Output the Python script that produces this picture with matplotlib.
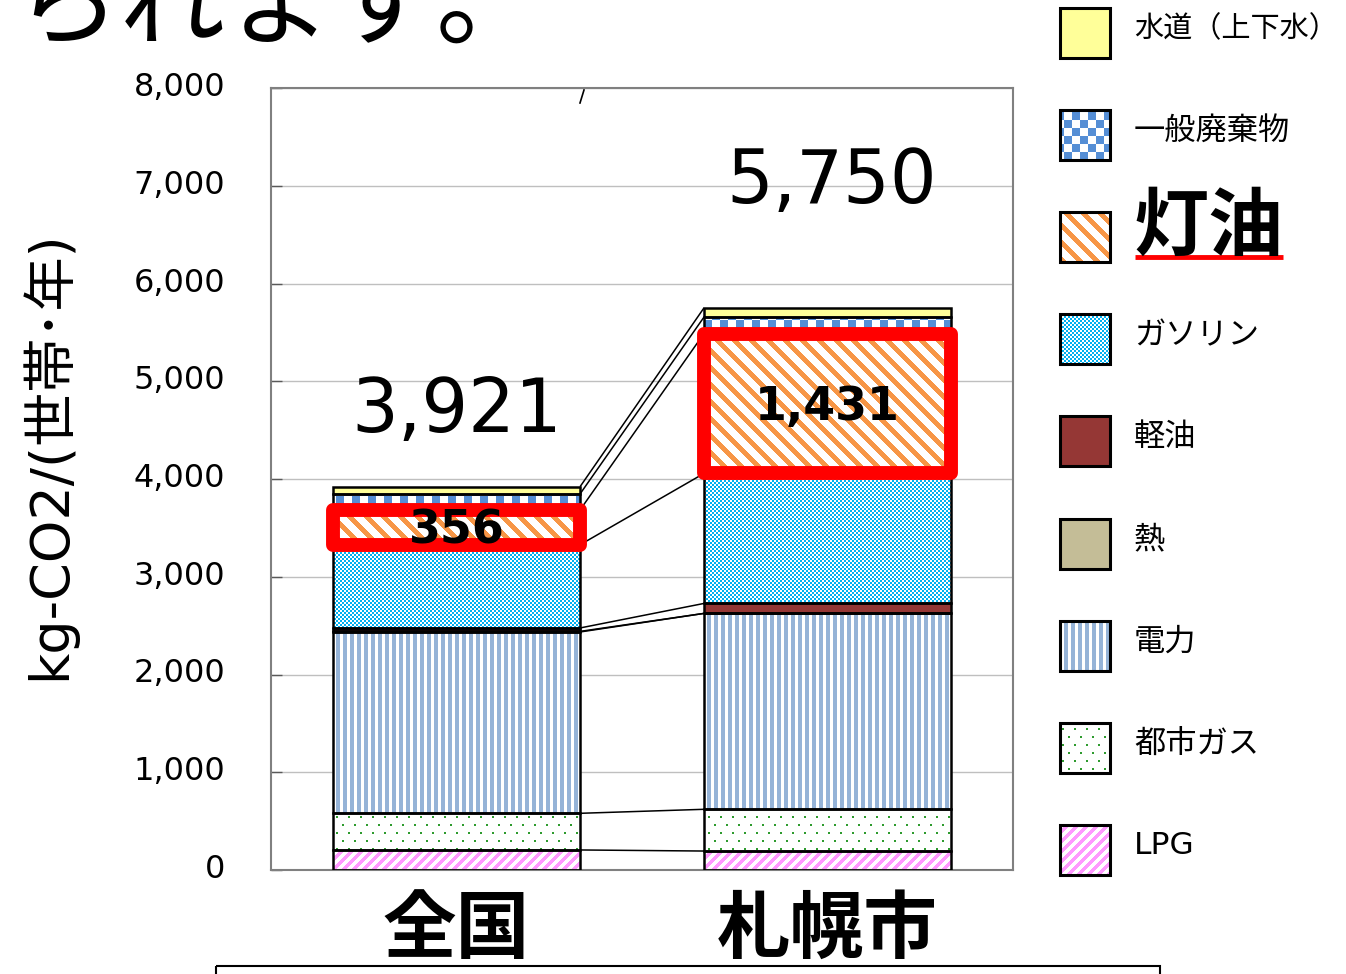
import numpy as np
import matplotlib
matplotlib.use('Agg')
import matplotlib.pyplot as plt
from matplotlib.patches import Rectangle
from matplotlib.colors import to_rgb
from matplotlib.transforms import ScaledTranslation

plt.rcParams['font.family'] = ['DejaVu Sans', 'Noto Sans CJK JP']

# ---------------- data ----------------
categories = ['全国', '札幌市']
series_names = ['LPG', '都市ガス', '電力', '熱', '軽油', 'ガソリン', '灯油', '一般廃棄物', '水道（上下水）']
lpg = [205, 194]
city_gas = [375, 427]
electricity = [1855, 2004]
heat = [6, 0]
diesel = [35, 102]
gasoline = [851, 1330]
kerosene = [356, 1431]
waste = [164, 168]
water = [74, 94]
series_values = [lpg, city_gas, electricity, heat, diesel, gasoline, kerosene, waste, water]
y_ticks = [0, 1000, 2000, 3000, 4000, 5000, 6000, 7000, 8000]
y_tick_labels = ['0', '1,000', '2,000', '3,000', '4,000', '5,000', '6,000', '7,000', '8,000']
highlight = '灯油'

# ---------------- styles ----------------
styles = {
    'LPG': ('fdiag', '#FF99FF', 10, 5),
    '都市ガス': ('dots', '#2E9B2E'),
    '電力': ('vstripe', '#95B3D7', 7, 4),
    '熱': ('solid', '#C4BD97'),
    '軽油': ('solid', '#953735'),
    'ガソリン': ('checker', '#00B0F0', 2),
    '灯油': ('bdiag', '#F79646', 17, 7),
    '一般廃棄物': ('checker', '#558ED5', 8),
    '水道（上下水）': ('solid', '#FFFF99'),
}

W_PX, H_PX = 1346, 974
fig = plt.figure(figsize=(W_PX / 100, H_PX / 100), dpi=100)
fig.patch.set_facecolor('white')


def make_tex(style, X, Y):
    white = np.array([1.0, 1.0, 1.0])
    kind = style[0]
    c = np.array(to_rgb(style[1]))
    shape = np.broadcast(X, Y).shape
    if kind == 'solid':
        mask = np.ones(shape, bool)
    elif kind == 'checker':
        cell = style[2]
        mask = (((X // cell) + (Y // cell)) % 2 == 0)
    elif kind == 'bdiag':
        p, w = style[2], style[3]
        mask = ((X - Y) % p) < w
    elif kind == 'fdiag':
        p, w = style[2], style[3]
        mask = ((X + Y) % p) < w
    elif kind == 'vstripe':
        p, w = style[2], style[3]
        mask = (X % p) < w
    elif kind == 'dots':
        row = Y // 8
        mask = ((Y % 8) < 2) & ((((X + (row % 2) * 6) % 12)) < 2)
    else:
        mask = np.zeros(shape, bool)
    mask = np.broadcast_to(mask, shape)
    arr = np.where(mask[..., None], c[None, None, :], white[None, None, :])
    return arr


def fill_texture(axx, patch, style, zorder):
    bb = patch.get_window_extent()
    x0, x1 = int(round(bb.x0)), int(round(bb.x1))
    y0, y1 = int(round(bb.y0)), int(round(bb.y1))
    if x1 <= x0:
        x1 = x0 + 1
    if y1 <= y0:
        y1 = y0 + 1
    H = y1 - y0
    X = np.arange(x0, x1)[None, :]
    Y = (H_PX - y1) + np.arange(H)[:, None]
    arr = make_tex(style, X, Y)
    inv = axx.transData.inverted()
    dx0, dy0 = inv.transform((x0, y0))
    dx1, dy1 = inv.transform((x1, y1))
    im = axx.imshow(arr, extent=[dx0, dx1, dy0, dy1], origin='upper',
                    interpolation='nearest', aspect='auto', zorder=zorder)
    im.set_clip_path(patch)
    return im


# ---------------- main axes ----------------
ax = fig.add_axes([271 / W_PX, 1 - 870 / H_PX, (1013 - 271) / W_PX, (870 - 88) / H_PX])
ax.set_xlim(-0.5, 1.5)
ax.set_ylim(0, 8000)
ax.set_yticks(y_ticks)
ax.set_yticklabels(y_tick_labels, fontsize=23, family=['DejaVu Sans'])
ax.tick_params(axis='y', direction='in', length=8, width=1, color='#595959', pad=33)
shift = ScaledTranslation(0, 4 / 100, fig.dpi_scale_trans)
for lab in ax.get_yticklabels():
    lab.set_transform(lab.get_transform() + shift)
ax.set_xticks([0, 1])
ax.set_xticklabels(categories, fontsize=53, fontweight='bold', family=['Noto Sans CJK JP'])
ax.tick_params(axis='x', length=0, pad=17)
ax.grid(axis='y', color='#BFBFBF', linewidth=1.0, zorder=0.5)
ax.set_axisbelow(True)
for sp in ax.spines.values():
    sp.set_color('#808080')
    sp.set_linewidth(1.5)

x = np.arange(len(categories))
width = 0.666
bottoms = np.zeros(len(categories))
cum_levels = [bottoms.copy()]
highlight_info = []
for name, vals in zip(series_names, series_values):
    vals = np.array(vals, float)
    bars = ax.bar(x, vals, width, bottom=bottoms, facecolor='none',
                  edgecolor='black', linewidth=1.8, zorder=3)
    for b in bars:
        if b.get_height() > 0:
            fill_texture(ax, b, styles[name], zorder=2)
    if name == highlight:
        highlight_info = [(xi, bi, vi) for xi, bi, vi in zip(x, bottoms, vals)]
    bottoms = bottoms + vals
    cum_levels.append(bottoms.copy())

ax.set_xlim(-0.5, 1.5)
ax.set_ylim(0, 8000)

# series connector lines
for lvl in cum_levels:
    ax.plot([x[0] + width / 2, x[1] - width / 2], [lvl[0], lvl[1]],
            color='black', linewidth=1.1, zorder=2.5, solid_capstyle='butt')

# highlight red boxes and labels
for xi, bi, vi in highlight_info:
    r = Rectangle((xi - width / 2, bi), width, vi, facecolor='none',
                  edgecolor='#FF0000', linewidth=10, joinstyle='round', zorder=4)
    ax.add_patch(r)
label_y = [3345, 4604]
label_x = [0.0, 1.0]
for (xi, bi, vi), ly, lx in zip(highlight_info, label_y, label_x):
    ax.text(lx, ly, f'{int(vi):,}', ha='center', va='baseline', fontsize=33,
            fontweight='bold', family=['DejaVu Sans'], zorder=6)

# totals
totals = bottoms
total_y = [4481, 6824]
total_x = [0.0, 1.012]
for t, ty, tx in zip(totals, total_y, total_x):
    ax.text(tx, ty, f'{int(round(t)):,}', ha='center', va='baseline',
            fontsize=53, family=['DejaVu Sans'], zorder=6)

# ---------------- overlay (pixel coords) ----------------
lax = fig.add_axes([0, 0, 1, 1])
lax.set_xlim(0, W_PX)
lax.set_ylim(H_PX, 0)
lax.set_axis_off()

# y-axis title
lax.text(48, 455, 'kg-CO2/(世帯･年)', rotation=90, ha='center', va='center',
         fontsize=39, family=['DejaVu Sans', 'Noto Sans CJK JP'])

# cut-off sentence at top
lax.text(14, 37, 'られます。', ha='left', va='baseline', fontsize=76,
         family=['Noto Sans CJK JP'])

# stray mark
lax.plot([580, 584], [103, 90], color='black', linewidth=1.2)

# bottom box (cut off)
lax.add_patch(Rectangle((216, 966), 944, 40, fill=False, edgecolor='black', linewidth=1.5))

# legend
legend_order = list(reversed(series_names))
for i, name in enumerate(legend_order):
    cy = 33 + i * 102.1
    box = Rectangle((1060, cy - 25), 50, 50, facecolor='none', edgecolor='black',
                    linewidth=2.2, zorder=3)
    lax.add_patch(box)
    fill_texture(lax, box, styles[name], zorder=2)
    if name == highlight:
        lax.text(1133, cy - 9, name, ha='left', va='center', fontsize=54,
                 fontweight='bold', family=['Noto Sans CJK JP'])
        lax.plot([1135, 1283], [cy + 20, cy + 20], color='#FF0000', linewidth=3.5,
                 solid_capstyle='butt')
    else:
        fs = 21 if name == '水道（上下水）' else 22.5
        lax.text(1134, cy - 4, name, ha='left', va='center', fontsize=fs,
                 family=['Noto Sans CJK JP'] if name != 'LPG' else ['DejaVu Sans'])

lax.set_xlim(0, W_PX)
lax.set_ylim(H_PX, 0)

fig.savefig('out.png', dpi=100)
